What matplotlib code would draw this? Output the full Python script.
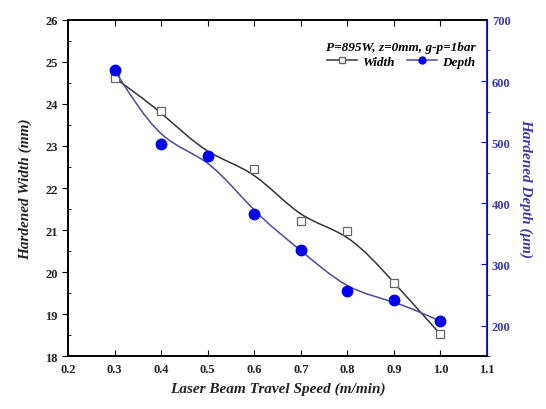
import numpy as np
import matplotlib
matplotlib.use("Agg")
import matplotlib.pyplot as plt
from matplotlib.path import Path
from matplotlib.patches import PathPatch
from matplotlib.lines import Line2D
from matplotlib.ticker import MultipleLocator

speed = [0.3, 0.4, 0.5, 0.6, 0.7, 0.8, 0.9, 1.0]
width = [24.62, 23.83, 22.75, 22.45, 21.22, 20.98, 19.75, 18.52]
depth = [618, 497, 478, 383, 324, 257, 241, 207]

xticks = [0.2, 0.3, 0.4, 0.5, 0.6, 0.7, 0.8, 0.9, 1.0, 1.1]
yticks_l = [18, 19, 20, 21, 22, 23, 24, 25, 26]
yticks_r = [200, 300, 400, 500, 600, 700]

plt.rcParams['font.family'] = ['Liberation Serif', 'DejaVu Serif']
plt.rcParams['font.weight'] = 'bold'

BLUE = '#0000ee'
NAVY = '#3a3aa8'
LINE_BLUE = '#4a4aa0'
TXT = '#222222'


def bspline_path(x, y):
    P = np.column_stack([x, y]).astype(float)
    P = np.vstack([2 * P[0] - P[1], P, 2 * P[-1] - P[-2]])
    verts = []
    codes = []
    for i in range(1, len(P) - 2):
        p0, p1, p2, p3 = P[i - 1], P[i], P[i + 1], P[i + 2]
        b0 = (p0 + 4 * p1 + p2) / 6
        b1 = (2 * p1 + p2) / 3
        b2 = (p1 + 2 * p2) / 3
        b3 = (p1 + 4 * p2 + p3) / 6
        if not verts:
            verts.append(b0)
            codes.append(Path.MOVETO)
        verts += [b1, b2, b3]
        codes += [Path.CURVE4] * 3
    return Path(np.array(verts), codes)


fig = plt.figure(figsize=(5.46, 4.10), dpi=100)
ax = fig.add_axes([0.1245, 0.129, 0.7675, 0.82])
ax2 = ax.twinx()

ax.set_xlim(0.2, 1.1)
ax.set_ylim(18, 26)
ax2.set_ylim(150, 700)

ax.add_patch(PathPatch(bspline_path(speed, width), fill=False, edgecolor='#333333', lw=1.1))
ax.plot(speed, width, ls='none', marker='s', ms=6, mfc='white', mec='#666666', mew=0.9)

ax2.add_patch(PathPatch(bspline_path(speed, depth), fill=False, edgecolor=LINE_BLUE, lw=1.1))
ax2.plot(speed, depth, ls='none', marker='o', ms=7.5, mfc=BLUE, mec=BLUE, zorder=5)

ax.set_xticks(xticks)
ax.set_xticklabels([f"{v:.1f}" for v in xticks])
ax.set_yticks(yticks_l)
ax.yaxis.set_minor_locator(MultipleLocator(0.5))
ax2.set_yticks(yticks_r)
ax2.yaxis.set_minor_locator(MultipleLocator(50))

ax.tick_params(axis='x', direction='in', length=4, labelsize=9, top=True, pad=5, labelcolor=TXT)
ax.tick_params(axis='y', which='major', direction='out', length=4, labelsize=9, labelcolor=TXT)
ax.tick_params(axis='y', which='minor', direction='in', length=2)
ax2.tick_params(axis='y', which='major', direction='in', length=4, labelsize=9,
                colors=NAVY, color=BLUE)
ax2.tick_params(axis='y', which='minor', direction='out', length=2, color=BLUE)

for sp in ['left', 'bottom', 'top']:
    ax.spines[sp].set_linewidth(1.2)
    ax2.spines[sp].set_linewidth(1.2)
ax2.spines['right'].set_color(BLUE)
ax2.spines['right'].set_linewidth(1.2)

ax.set_xlabel('Laser Beam Travel Speed (m/min)', fontsize=11, style='italic', weight='bold',
              labelpad=5, color=TXT)
ax.set_ylabel('Hardened Width (mm)', fontsize=11, style='italic', weight='bold',
              labelpad=9, color=TXT)
ax2.set_ylabel('Hardened Depth (μm)', fontsize=11, style='italic', weight='bold',
               color=NAVY, rotation=270, labelpad=16)

handles = [
    Line2D([], [], color='#333333', lw=1.1, marker='s', ms=5, mfc='white', mec='#666666'),
    Line2D([], [], color=LINE_BLUE, lw=1.1, marker='o', ms=5, mfc=BLUE, mec=BLUE),
]
leg = ax2.legend(handles, ['Width', 'Depth'], loc='upper right', ncol=2, frameon=False,
                 title='P=895W, z=0mm, g-p=1bar', bbox_to_anchor=(0.995, 0.965),
                 prop={'style': 'italic', 'weight': 'bold', 'size': 9.5},
                 handlelength=2.3, columnspacing=0.9, handletextpad=0.4,
                 borderpad=0.2, labelspacing=0.2)
leg.get_title().set_fontstyle('italic')
leg.get_title().set_fontweight('bold')
leg.get_title().set_fontsize(9.5)
leg._legend_box.align = 'right'

fig.savefig('out.png', dpi=100)
